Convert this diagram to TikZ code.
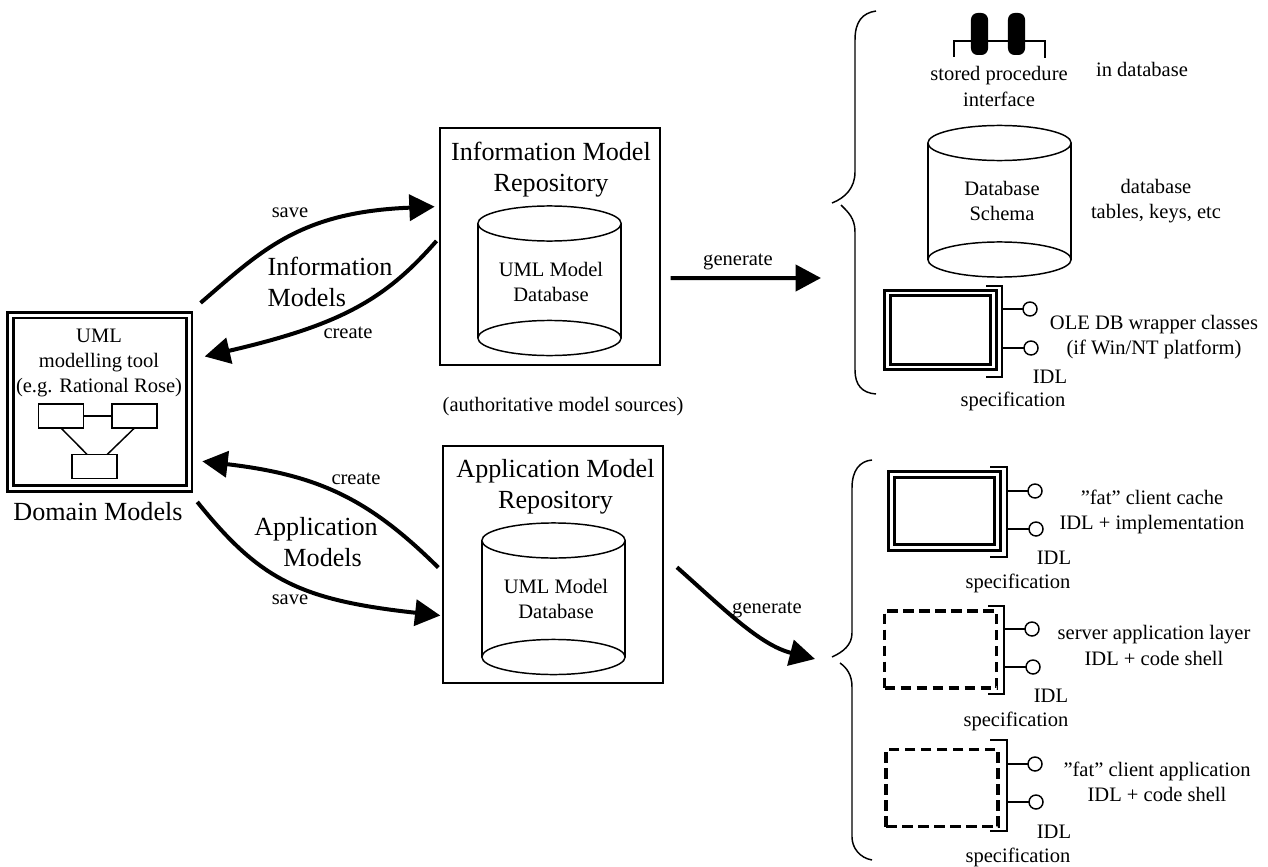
\documentclass[tikz,border=0pt]{standalone}
\usepackage{fontspec}
\setmainfont{Liberation Serif}
\usetikzlibrary{arrows.meta,shapes.geometric}
\begin{document}
\begin{tikzpicture}[x=0.75pt,y=-0.75pt,line width=1.1pt,
  txt/.style={align=center,inner sep=0pt,font=\fontsize{15.4}{18.8}\selectfont},
  bigtxt/.style={align=center,inner sep=0pt,font=\fontsize{19.6}{23.2}\selectfont},
  repo/.style={rectangle,draw,line width=1.2pt,minimum width=165pt,minimum height=178pt,inner sep=0pt,outer sep=0pt},
  dbend/.style={ellipse,draw,minimum width=107.5pt,minimum height=26.3pt,inner sep=0pt,outer sep=0pt},
  dbl/.style={rectangle,draw,line width=2.2pt,double,double distance=2.2pt,inner sep=0pt,outer sep=0pt},
  dsh/.style={rectangle,draw,line width=2.7pt,dash pattern=on 8pt off 4pt,inner sep=0pt,outer sep=0pt},
  mini/.style={rectangle,draw,minimum width=34pt,minimum height=18pt,inner sep=0pt,outer sep=0pt},
  ball/.style={circle,draw,minimum size=10.5pt,inner sep=0pt,outer sep=0pt},
  pill/.style={rectangle,fill=black,rounded corners=5pt,minimum width=12.8pt,minimum height=31.5pt,inner sep=0pt},
  flow/.style={line width=3pt,-{Triangle[length=19pt,width=19.5pt]}}]

  \useasboundingbox (0,0) rectangle (1268,867);

  % domain models
  \node[dbl,minimum width=134pt,minimum height=130pt] at (99.75,401.75) (domain) {};
  \node[txt] at (99,363) (tool) {UML\\modelling tool\\(e.g. Rational Rose)};
  \node[mini] at (61,416) (boxa) {};
  \node[mini] at (134.5,416) (boxb) {};
  \node[mini] at (94.5,466.5) (boxc) {};
  \node[bigtxt] at (98,512) (domlab) {Domain Models};
  \draw (boxa) -- (boxb);
  \draw (boxa.south) -- ([xshift=-5.5pt]boxc.north);
  \draw (boxb.south) -- ([xshift=9.5pt]boxc.north);

  % repositories
  \node[repo] at (550,246.5) (inforepo) {};
  \node[bigtxt] at (551,169.5) (infolab) {Information Model\\Repository};
  \node[dbend] at (549.5,223.5) (infotop) {};
  \node[dbend] at (549.5,338) (infobot) {};
  \draw (infotop.west) -- (infobot.west);
  \draw (infotop.east) -- (infobot.east);
  \node[txt] at (551,282) (infotxt) {UML Model\\Database};
  \node[repo] at (553,564.5) (apprepo) {};
  \node[bigtxt] at (555.5,487) (applab) {Application Model\\Repository};
  \node[dbend] at (553.5,540.5) (apptop) {};
  \node[dbend] at (553.5,657) (appbot) {};
  \draw (apptop.west) -- (appbot.west);
  \draw (apptop.east) -- (appbot.east);
  \node[txt] at (556,599) (apptxt) {UML Model\\Database};
  \node[txt] at (563,407) (auth) {(authoritative model sources)};

  % arrows on the left
  \draw[flow,shorten <=14pt,shorten >=4pt] (domain.45) .. controls (262,250) and (300,212) .. (inforepo.160);
  \draw[flow,shorten <=4pt,shorten >=12pt] (inforepo.175) .. controls (385,300) and (340,325) .. (domain.25);
  \draw[flow,shorten <=5pt,shorten >=10pt] (apprepo.184) .. controls (370,500) and (320,475) .. (domain.-33);
  \draw[flow,shorten <=13pt,shorten >=2pt] (domain.-45) .. controls (260,580) and (300,600) .. (apprepo.205);
  \node[txt] at (290,213) (save1) {save};
  \node[txt] at (348,333) (create1) {create};
  \node[bigtxt,align=left] at (330,282) (infomod) {Information\\Models};
  \node[txt] at (356,479) (create2) {create};
  \node[bigtxt] at (316,542) (appmod) {Application\\\hspace*{10pt}Models};
  \node[txt] at (290,600) (save2) {save};

  % generate arrows
  \coordinate (gen1) at (821,278);
  \coordinate (gen2) at (815,659);
  \draw[flow,shorten <=8pt] (inforepo.-16) -- (gen1);
  \draw[flow,shorten <=14pt] (apprepo.5) .. controls (725,610) and (760,645) .. (gen2);
  \node[txt] at (738,262) (gen1lab) {generate};
  \node[txt] at (767,610) (gen2lab) {generate};

  % braces
  \draw (876,11) .. controls (862,13) and (855,22) .. (855,40) -- (855,172) .. controls (855,188) and (845,198) .. (832,203);
  \draw (841,205) .. controls (848,212) and (855,218) .. (855,232) -- (855,370) .. controls (855,385) and (862,393) .. (876,394);
  \draw (872,460) .. controls (860,461) and (852,470) .. (852,488) -- (852,633) .. controls (852,645) and (843,652) .. (832,657);
  \draw (840,663) .. controls (847,668) and (852,675) .. (852,687) -- (852,837) .. controls (852,848) and (860,858) .. (872,860);

  % stored procedure
  \coordinate (spl) at (954,41);
  \coordinate (spr) at (1045,41);
  \draw (954,57) -- (spl) -- (spr) -- (1045,58);
  \node[pill] at (979.5,34) (pilla) {};
  \node[pill] at (1016.5,34) (pillb) {};
  \node[txt] at (999,86.5) (sptxt) {stored procedure\\interface};
  \node[txt] at (1142,69) (indb) {in database};

  % database schema
  \node[dbend] at (999.5,143) (schtop) {};
  \node[dbend] at (999.5,259.5) (schbot) {};
  \draw (schtop.west) -- (schbot.west);
  \draw (schtop.east) -- (schbot.east);
  \node[txt] at (1002,201) (schtxt) {Database\\Schema};
  \node[txt] at (1156,201) (tabtxt) {database\\tables, keys, etc};

  % OLE DB
  \node[dbl,minimum width=80pt,minimum height=55.5pt] at (940.5,330) (win1) {};
  \coordinate (brk1) at (1002,286);
  \draw (986,286) -- (brk1) -- (1002,377) -- (986,377);
  \node[ball] at (1030,309) (b1a) {};
  \node[ball] at (1031,348) (b1b) {};
  \draw (b1a) -- (b1a -| brk1);
  \draw (b1b) -- (b1b -| brk1);
  \node[txt] at (1154,337) (win1txt) {OLE DB wrapper classes\\(if Win/NT platform)};
  \node[txt] at (1050,377) (idl1) {IDL};
  \node[txt] at (1013,401) (spec1) {specification};

  % client cache
  \node[dbl,minimum width=80pt,minimum height=55pt] at (944.5,511) (win2) {};
  \coordinate (brk2) at (1007,467);
  \draw (990,467) -- (brk2) -- (1007,557) -- (990,557);
  \node[ball] at (1035,491) (b2a) {};
  \node[ball] at (1036,529) (b2b) {};
  \draw (b2a) -- (b2a -| brk2);
  \draw (b2b) -- (b2b -| brk2);
  \node[txt] at (1152,512) (win2txt) {”fat” client cache\\IDL + implementation};
  \node[txt] at (1054,558) (idl2) {IDL};
  \node[txt] at (1018,583) (spec2) {specification};

  % server layer
  \node[dsh,minimum width=84pt,minimum height=58pt] at (940.5,649.5) (win3) {};
  \coordinate (brk3) at (1004,606);
  \draw (988,606) -- (brk3) -- (1004,694) -- (988,694);
  \node[ball] at (1032,629) (b3a) {};
  \node[ball] at (1033,667) (b3b) {};
  \draw (b3a) -- (b3a -| brk3);
  \draw (b3b) -- (b3b -| brk3);
  \node[txt] at (1154,645.5) (win3txt) {server application layer\\IDL + code shell};
  \node[txt] at (1051,696) (idl3) {IDL};
  \node[txt] at (1016,721) (spec3) {specification};

  % client application
  \node[dsh,minimum width=84pt,minimum height=58pt] at (942,788) (win4) {};
  \coordinate (brk4) at (1007,740);
  \draw (990,740) -- (brk4) -- (1007,831) -- (990,831);
  \node[ball] at (1035,764) (b4a) {};
  \node[ball] at (1036,802) (b4b) {};
  \draw (b4a) -- (b4a -| brk4);
  \draw (b4b) -- (b4b -| brk4);
  \node[txt] at (1157,781.5) (win4txt) {”fat” client application\\IDL + code shell};
  \node[txt] at (1054,832) (idl4) {IDL};
  \node[txt] at (1018,857) (spec4) {specification};

\end{tikzpicture}
\end{document}
